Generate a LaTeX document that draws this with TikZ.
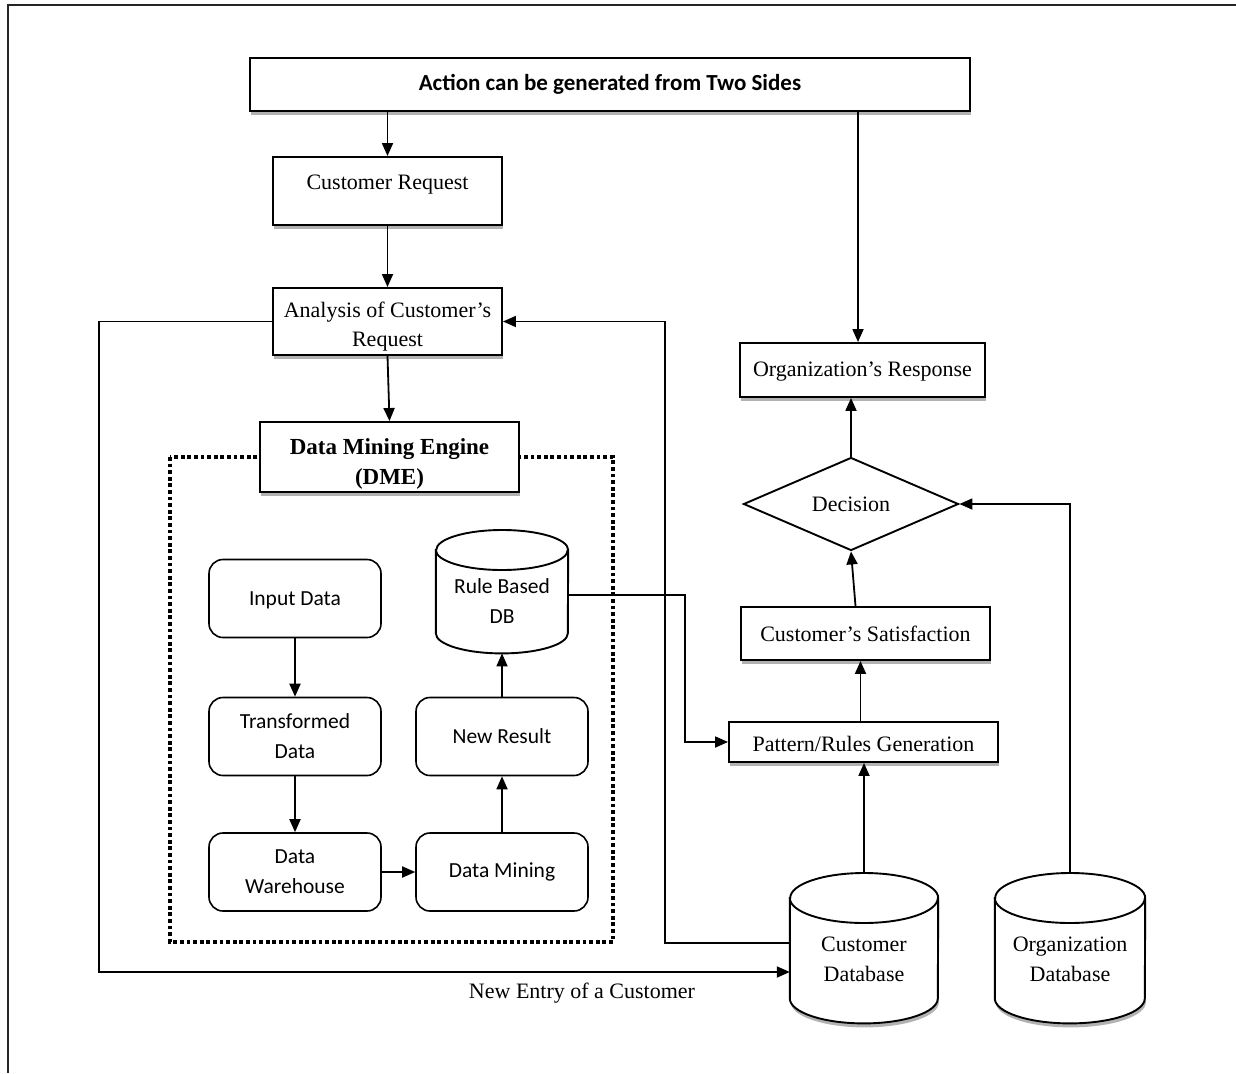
\documentclass[tikz,border=0pt]{standalone}
\usepackage{fontspec}
\setmainfont{Liberation Serif}
\newfontfamily\calib{Carlito}
\usetikzlibrary{shapes.geometric,arrows.meta,shadows,calc,backgrounds}
\newcommand{\txtlines}[2]{\raisebox{#1}[\height][\depth]{\begin{tabular}{@{}c@{}}#2\end{tabular}}}
\newcommand{\txtone}[2]{\raisebox{#1}[\height][\depth]{#2}}
% cylinder outline drawn around a named node: #1 name, #2 x radius, #3 y radius, #4 extra style
\newcommand{\cylbody}[4]{%
  \path[cylline, fill=white, #4] ([yshift=-#3pt]#1.north west) -- ([yshift=#3pt]#1.south west)
     arc[start angle=180, end angle=0, x radius=#2, y radius=#3]
     -- ([yshift=-#3pt]#1.north east)
     arc[start angle=0, end angle=-180, x radius=#2, y radius=#3] -- cycle;
  \draw[cylline] ([yshift=-#3pt]#1.north west) arc[start angle=180, end angle=0, x radius=#2, y radius=#3];
}
\tikzset{
  sh/.style={drop shadow={shadow xshift=1pt,shadow yshift=-4pt,opacity=0.3,fill=black}},
  box/.style={draw, fill=white, line width=1.9pt, inner sep=0pt, align=center,
    font=\fontsize{22}{29}\selectfont, sh},
  rbox/.style={draw, fill=white, line width=1.6pt, rounded corners=14pt, inner sep=0pt,
    align=center, minimum width=172, minimum height=78, font=\calib\fontsize{21.5}{30}\selectfont},
  cylnode/.style={inner sep=0pt, align=center, font=\fontsize{22}{30}\selectfont},
  cylline/.style={draw, line width=1.9pt},
  arr/.style={-{Triangle[length=13pt,width=11pt]}, line width=1.8pt},
}
\begin{document}
\begin{tikzpicture}[x=1pt,y=-1pt]
\useasboundingbox (0,0) rectangle (1236,1073);
% frame
\draw[line width=2pt, black!85] (8,1073) -- (8,5) -- (1236,5);

% dotted DME container
\draw[line width=3.8pt, dash pattern=on 3.8pt off 2.8pt] (170,457) rectangle (613,942);

% top row
\node[box, minimum width=720, minimum height=53, font=\calib\bfseries\fontsize{23}{28}\selectfont] (title) at (610,84.5) {Action can be generated from Two Sides};
\node[box, minimum width=229, minimum height=68] (creq) at (387.5,191) {\txtone{6pt}{Customer Request}};
\node[box, minimum width=229, minimum height=67] (anal) at (387.5,321.5) {\txtlines{-5pt}{Analysis of Customer’s\\Request}};
\node[box, minimum width=259, minimum height=70, font=\bfseries\fontsize{23}{30}\selectfont] (dme) at (389.5,457) {\txtlines{-6pt}{Data Mining Engine\\(DME)}};

% inner DME boxes
\node[rbox] (input) at (295,598.5) {\txtone{-2pt}{Input Data}};
\node[rbox] (trans) at (295,736.5) {Transformed\\Data};
\node[rbox] (wareh) at (295,872) {Data\\Warehouse};
\node[rbox] (dmine) at (502,872) {Data Mining};
\node[rbox] (newres) at (502,736.5) {New Result};
\node[cylnode, anchor=north, minimum width=132, minimum height=123, font=\calib\fontsize{21.5}{30}\selectfont] (ruledb) at (502,530) {\txtlines{-11pt}{Rule Based\\DB}};

% right column
\node[box, minimum width=245, minimum height=54] (orgresp) at (862.5,370) {\txtone{-2pt}{Organization’s Response}};
\node[diamond, draw, fill=white, line width=1.9pt, inner sep=0pt, minimum width=215, minimum height=93, font=\fontsize{22}{29}\selectfont] (decision) at (851,504) {Decision};
\node[box, minimum width=249, minimum height=53] (satis) at (865.5,633.5) {Customer’s Satisfaction};
\node[box, minimum width=269, minimum height=40] (pattern) at (863.5,742) {\txtone{-2pt}{Pattern/Rules Generation}};
\node[cylnode, anchor=north, minimum width=148, minimum height=150] (custdb) at (864,873) {\txtlines{-12pt}{Customer\\Database}};
\node[cylnode, anchor=north, minimum width=150, minimum height=150] (orgdb) at (1070,873) {\txtlines{-12pt}{Organization\\Database}};

% cylinder outlines behind their texts
\begin{pgfonlayer}{background}
  \cylbody{ruledb}{66}{20}{}
  \cylbody{custdb}{74}{25}{sh}
  \cylbody{orgdb}{75}{25}{sh}
\end{pgfonlayer}

% connectors
\draw[arr] (creq.north |- title.south) -- (creq.north);
\draw[arr] ([xshift=-4.5pt]orgresp.north |- title.south) -- ([xshift=-4.5pt]orgresp.north);
\draw[arr] (creq.south) -- (anal.north);
\draw[arr] (anal.south) -- (dme.north);

\draw[arr] (input.south) -- (trans.north);
\draw[arr] (trans.south) -- (wareh.north);
\draw[arr] (wareh.east) -- (dmine.west);
\draw[arr] (dmine.north) -- (newres.south);
\draw[arr] (newres.north) -- (ruledb.south);
\draw[arr] (ruledb.east |- 0,595) -- ++(117,0) |- (pattern.west);

\draw[arr] ([xshift=-3pt]pattern.north) -- ([xshift=-3pt]pattern.north |- satis.south);
\draw[arr] ([xshift=-10pt]satis.north) -- (decision.south);
\draw[arr] (decision.north) -- (decision.north |- orgresp.south);
\draw[arr] (custdb.north) -- (custdb.north |- pattern.south);
\draw[arr] (orgdb.north) |- (decision.east);

\draw[arr] (custdb.west |- 0,943) -- ++(-125,0) |- (anal.east);
\draw[arr] (anal.west) -- ++(-173,0) |- (custdb.west |- 0,972);
\node[font=\fontsize{22}{29}\selectfont] (newentry) at (582,993) {New Entry of a Customer};
\end{tikzpicture}
\end{document}
